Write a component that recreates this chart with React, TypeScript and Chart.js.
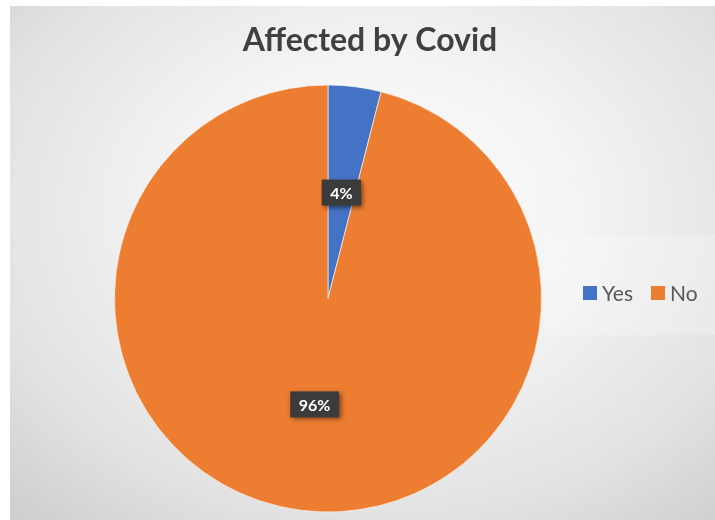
import React, { useEffect, useRef } from "react";
import { Chart, registerables } from "chart.js";

Chart.register(...registerables);

const TITLE = "Affected by Covid";
const categories = ["Yes", "No"];
const values = [4, 96];
const colors = ["#4472C4", "#ED7D31"];

const FONT = "Lato, 'Open Sans', sans-serif";

const labelPlugin = {
  id: "customLabels",
  afterDatasetsDraw(chart: any) {
    const ctx = chart.ctx;
    const meta = chart.getDatasetMeta(0);
    const total = values.reduce((a, b) => a + b, 0);
    ctx.save();
    ctx.font = `bold 16px ${FONT}`;
    ctx.textAlign = "center";
    ctx.textBaseline = "middle";
    meta.data.forEach((arc: any, i: number) => {
      const p = arc.getCenterPoint();
      const txt = Math.round((values[i] / total) * 100) + "%";
      const w = ctx.measureText(txt).width + 17;
      const h = 26;
      ctx.save();
      ctx.shadowColor = "rgba(0,0,0,0.55)";
      ctx.shadowBlur = 5;
      ctx.shadowOffsetX = 2;
      ctx.shadowOffsetY = 2;
      ctx.fillStyle = "#3b3b3b";
      ctx.fillRect(p.x - w / 2, p.y - h / 2, w, h);
      ctx.restore();
      ctx.fillStyle = "#ffffff";
      ctx.fillText(txt, p.x, p.y + 1);
    });
    ctx.restore();
  },
};

const titleLegendPlugin = {
  id: "titleLegend",
  afterDraw(chart: any) {
    const ctx = chart.ctx;
    ctx.save();
    // title
    ctx.font = `bold 32px ${FONT}`;
    ctx.fillStyle = "#404040";
    ctx.textAlign = "center";
    ctx.textBaseline = "alphabetic";
    ctx.fillText(TITLE, 360, 45);
    // legend
    ctx.fillStyle = "rgba(255,255,255,0.22)";
    ctx.fillRect(535, 229, 170, 100);
    ctx.font = `21px ${FONT}`;
    ctx.textBaseline = "middle";
    ctx.textAlign = "left";
    let x = 573;
    const y = 287;
    categories.forEach((c, i) => {
      ctx.fillStyle = colors[i];
      ctx.fillRect(x, y - 7, 14, 14);
      ctx.fillStyle = "#595959";
      ctx.fillText(c, x + 19, y + 1);
      x += 19 + ctx.measureText(c).width + 18;
    });
    ctx.restore();
  },
};

export default function App() {
  const ref = useRef<HTMLCanvasElement | null>(null);
  useEffect(() => {
    if (!ref.current) return;
    const chart = new Chart(ref.current, {
      type: "pie",
      data: {
        labels: categories,
        datasets: [
          {
            data: values,
            backgroundColor: colors,
            borderColor: "rgba(255,255,255,0.6)",
            borderWidth: 1,
          },
        ],
      },
      options: {
        animation: false,
        responsive: false,
        layout: { padding: { top: 78, bottom: 7, left: 104, right: 173 } },
        plugins: {
          legend: { display: false },
          title: { display: false },
          tooltip: { enabled: false },
        },
      },
      plugins: [labelPlugin, titleLegendPlugin],
    });
    return () => chart.destroy();
  }, []);
  return (
    <div
      style={{
        position: "absolute",
        left: 10,
        top: 6,
        width: 705,
        height: 514,
        background:
          "radial-gradient(ellipse 75% 80% at 52% 40%, #ffffff 0%, #f3f3f3 40%, #e2e2e2 75%, #cfcfcf 100%)",
      }}
    >
      <canvas ref={ref} width={705} height={514} style={{ display: "block" }} />
    </div>
  );
}
